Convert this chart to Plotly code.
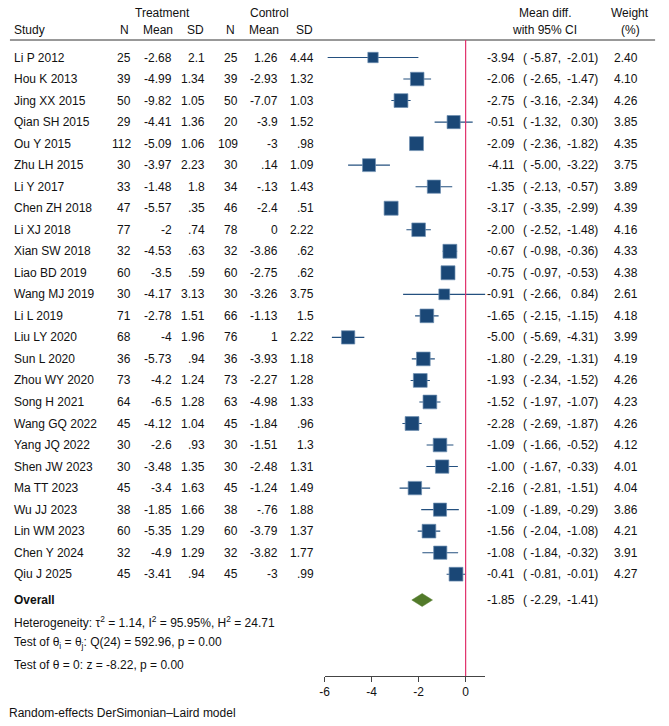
import plotly.graph_objects as go

studies = ["Li P 2012", "Hou K 2013", "Jing XX 2015", "Qian SH 2015", "Ou Y 2015", "Zhu LH 2015",
           "Li Y 2017", "Chen ZH 2018", "Li XJ 2018", "Xian SW 2018", "Liao BD 2019", "Wang MJ 2019",
           "Li L 2019", "Liu LY 2020", "Sun L 2020", "Zhou WY 2020", "Song H 2021", "Wang GQ 2022",
           "Yang JQ 2022", "Shen JW 2023", "Ma TT 2023", "Wu JJ 2023", "Lin WM 2023", "Chen Y 2024",
           "Qiu J 2025"]
t_n = [25, 39, 50, 29, 112, 30, 33, 47, 77, 32, 60, 30, 71, 68, 36, 73, 64, 45, 30, 30, 45, 38, 60, 32, 45]
t_mean = [-2.68, -4.99, -9.82, -4.41, -5.09, -3.97, -1.48, -5.57, -2, -4.53, -3.5, -4.17, -2.78, -4,
          -5.73, -4.2, -6.5, -4.12, -2.6, -3.48, -3.4, -1.85, -5.35, -4.9, -3.41]
t_sd = [2.1, 1.34, 1.05, 1.36, 1.06, 2.23, 1.8, .35, .74, .63, .59, 3.13, 1.51, 1.96, .94, 1.24, 1.28,
        1.04, .93, 1.35, 1.63, 1.66, 1.29, 1.29, .94]
c_n = [25, 39, 50, 20, 109, 30, 34, 46, 78, 32, 60, 30, 66, 76, 36, 73, 63, 45, 30, 30, 45, 38, 60, 32, 45]
c_mean = [1.26, -2.93, -7.07, -3.9, -3, .14, -.13, -2.4, 0, -3.86, -2.75, -3.26, -1.13, 1, -3.93,
          -2.27, -4.98, -1.84, -1.51, -2.48, -1.24, -.76, -3.79, -3.82, -3]
c_sd = [4.44, 1.32, 1.03, 1.52, .98, 1.09, 1.43, .51, 2.22, .62, .62, 3.75, 1.5, 2.22, 1.18, 1.28,
        1.33, .96, 1.3, 1.31, 1.49, 1.88, 1.37, 1.77, .99]
md = [-3.94, -2.06, -2.75, -0.51, -2.09, -4.11, -1.35, -3.17, -2.00, -0.67, -0.75, -0.91, -1.65,
      -5.00, -1.80, -1.93, -1.52, -2.28, -1.09, -1.00, -2.16, -1.09, -1.56, -1.08, -0.41]
ci_lo = [-5.87, -2.65, -3.16, -1.32, -2.36, -5.00, -2.13, -3.35, -2.52, -0.98, -0.97, -2.66, -2.15,
         -5.69, -2.29, -2.34, -1.97, -2.69, -1.66, -1.67, -2.81, -1.89, -2.04, -1.84, -0.81]
ci_hi = [-2.01, -1.47, -2.34, 0.30, -1.82, -3.22, -0.57, -2.99, -1.48, -0.36, -0.53, 0.84, -1.15,
         -4.31, -1.31, -1.52, -1.07, -1.87, -0.52, -0.33, -1.51, -0.29, -1.08, -0.32, -0.01]
weights = [2.40, 4.10, 4.26, 3.85, 4.35, 3.75, 3.89, 4.39, 4.16, 4.33, 4.38, 2.61, 4.18, 3.99, 4.19,
           4.26, 4.23, 4.26, 4.12, 4.01, 4.04, 3.86, 4.21, 3.91, 4.27]
overall = (-1.85, -2.29, -1.41)
x_ticks = [-6, -4, -2, 0]

W, H = 669, 726
FONT = "Liberation Sans, Arial, Helvetica, sans-serif"
TXT = "#111111"
FS = 12
ROW0, STEP = 57.5, 21.53
OVERALL_Y = 600
SQ = "#1a4776"


def fmt(v):
    s = f"{v:g}"
    if s.startswith("0."):
        s = s[1:]
    elif s.startswith("-0."):
        s = "-" + s[2:]
    return s


def px(x):
    return x / W


rows_y = [ROW0 + STEP * i for i in range(len(studies))]

fig = go.Figure()

# CI lines and squares
maxw = max(weights)
fig.add_trace(go.Scatter(
    x=md, y=rows_y, mode="markers",
    marker=dict(symbol="square", size=[14 * (w / maxw) ** 0.5 for w in weights], color=SQ,
                opacity=1, line=dict(color="#6f8fb2", width=0.7)),
    error_x=dict(type="data", symmetric=False,
                 array=[h - m for h, m in zip(ci_hi, md)],
                 arrayminus=[m - l for m, l in zip(md, ci_lo)],
                 thickness=1.1, width=0, color="#24507f"),
    hoverinfo="skip", showlegend=False))

# overall diamond
om, ol, oh = overall
fig.add_trace(go.Scatter(
    x=[ol, om, oh, om, ol], y=[OVERALL_Y, OVERALL_Y - 6.5, OVERALL_Y, OVERALL_Y + 6.5, OVERALL_Y],
    mode="lines", fill="toself", fillcolor="#527a2a", line=dict(color="#527a2a", width=0.5),
    hoverinfo="skip", showlegend=False))

ann = []


def add(text, x, y, anchor="right", bold=False):
    if bold:
        text = f"<b>{text}</b>"
    ann.append(dict(text=text, x=px(x), y=y, xref="paper", yref="y", xanchor=anchor,
                    yanchor="middle", showarrow=False, font=dict(family=FONT, size=FS, color=TXT)))


# headers
add("Treatment", 159, 13, "center")
add("Control", 266, 13, "center")
add("Study", 7, 30, "left")
for t, x in [("N", 127), ("Mean", 171), ("SD", 203), ("N", 234), ("Mean", 278), ("SD", 312)]:
    add(t, x, 30)
add("Mean diff.", 544, 13, "center")
add("with 95% CI", 544, 30, "center")
add("Weight", 630, 13, "center")
add("(%)", 630, 30, "center")

cols = [(t_n, 129), (t_mean, 170), (t_sd, 204), (c_n, 237), (c_mean, 277), (c_sd, 313)]
for i, s in enumerate(studies):
    y = rows_y[i]
    add(s, 7, y, "left")
    for arr, x in cols:
        add(fmt(arr[i]), x, y)
    add(f"{md[i]:.2f}", 516, y)
    add(f"( {ci_lo[i]:.2f},", 562, y)
    add(f"{ci_hi[i]:.2f})", 599, y)
    add(f"{weights[i]:.2f}", 640, y)

add("Overall", 7, OVERALL_Y, "left", bold=True)
add(f"{om:.2f}", 516, OVERALL_Y)
add(f"( {ol:.2f},", 562, OVERALL_Y)
add(f"{oh:.2f})", 599, OVERALL_Y)

add("Heterogeneity: τ<sup>2</sup> = 1.14, I<sup>2</sup> = 95.95%, H<sup>2</sup> = 24.71", 7,
    OVERALL_Y + STEP, "left")
add("Test of θ<sub>i</sub> = θ<sub>j</sub>: Q(24) = 592.96, p = 0.00", 7, OVERALL_Y + 2 * STEP, "left")
add("Test of θ = 0: z = -8.22, p = 0.00", 7, OVERALL_Y + 3 * STEP, "left")
add("Random-effects DerSimonian–Laird model", 2, 713, "left")

AX_Y = 676
shapes = [
    dict(type="line", xref="paper", yref="y", x0=px(5), x1=px(655), y0=40, y1=40,
         line=dict(color="#333333", width=1)),
    dict(type="line", xref="x", yref="y", x0=0, x1=0, y0=40, y1=AX_Y,
         line=dict(color="#e0306b", width=1.2)),
]

fig.update_layout(
    width=W, height=H, margin=dict(l=0, r=0, t=0, b=0),
    paper_bgcolor="white", plot_bgcolor="rgba(0,0,0,0)",
    annotations=ann, shapes=shapes,
    xaxis=dict(domain=[px(322), px(484)], range=[-6, 0.84], anchor="free", position=1 - AX_Y / H,
               showgrid=False, zeroline=False, showline=True, linecolor="#444444", linewidth=1,
               ticks="outside", ticklen=5, tickcolor="#444444", tickvals=x_ticks,
               ticktext=[str(v) for v in x_ticks],
               tickfont=dict(family=FONT, size=FS, color=TXT)),
    yaxis=dict(domain=[0, 1], range=[H, 0], visible=False, showgrid=False, zeroline=False),
)

fig.write_html("out.html")
